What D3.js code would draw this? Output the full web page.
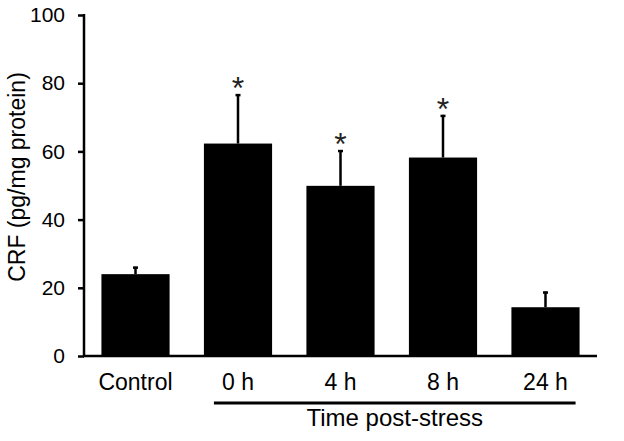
<!DOCTYPE html>
<html>
<head>
<meta charset="utf-8">
<script src="https://cdn.jsdelivr.net/npm/d3@7"></script>
<style>
  html, body { margin: 0; padding: 0; background: #fff; }
  svg { display: block; font-family: "Liberation Sans", Arial, sans-serif; }
</style>
</head>
<body>
<svg id="chart" width="624" height="441"></svg>
<script>
const categories = ["Control", "0 h", "4 h", "8 h", "24 h"];
const means = [24.0, 62.3, 49.9, 58.2, 14.3];
const errors = [2.2, 14.5, 10.5, 12.5, 4.6];
const significant = [false, true, true, true, false];
const yTicks = [0, 20, 40, 60, 80, 100];
const yTitle = "CRF (pg/mg protein)";
const groupTitle = "Time post-stress";

const svg = d3.select("#chart");
const x0 = 84, x1 = 597, yBottom = 356, yTop = 15;

const x = d3.scaleBand().domain(categories).range([x0, x1])
  .paddingInner(0.335).paddingOuter(0.17);
const y = d3.scaleLinear().domain([0, 100]).range([yBottom, yTop]);

// bars
svg.append("g").selectAll("rect").data(categories).join("rect")
  .attr("x", d => x(d))
  .attr("width", x.bandwidth())
  .attr("y", (d, i) => y(means[i]))
  .attr("height", (d, i) => y(0) - y(means[i]))
  .attr("fill", "#000");

// error bars
const eg = svg.append("g");
categories.forEach((c, i) => {
  const cx = x(c) + x.bandwidth() / 2;
  eg.append("line").attr("x1", cx).attr("x2", cx)
    .attr("y1", y(means[i])).attr("y2", y(means[i] + errors[i]))
    .attr("stroke", "#000").attr("stroke-width", 2.5);
  eg.append("line").attr("x1", cx - 2.5).attr("x2", cx + 2.5)
    .attr("y1", y(means[i] + errors[i]) + 1).attr("y2", y(means[i] + errors[i]) + 1)
    .attr("stroke", "#000").attr("stroke-width", 2.5);
  if (significant[i]) {
    eg.append("text").attr("x", cx)
      .attr("y", y(means[i] + errors[i]) - 13.5 + 0.57 * 32)
      .attr("text-anchor", "middle")
      .attr("font-size", 32).attr("fill", "#222")
      .text("*");
  }
});

// y axis
const yAxis = d3.axisLeft(y).tickValues(yTicks).tickSize(6).tickPadding(13);
const ga = svg.append("g").attr("transform", `translate(${x0},0)`).call(yAxis);
ga.select(".domain").attr("d", `M0,${yTop - 1}V${yBottom}`).attr("stroke-width", 2.5);
ga.selectAll(".tick line").attr("stroke-width", 2.5);
ga.selectAll(".tick text").attr("font-size", 21).attr("font-family", "Liberation Sans, Arial, sans-serif")
  .attr("fill", "#000");

// x axis baseline
const xAxis = d3.axisBottom(x).tickSize(0).tickPadding(24);
const gx = svg.append("g").attr("transform", `translate(0,${yBottom})`).call(xAxis);
gx.select(".domain").attr("d", `M${x0 - 1},0H${x1}`).attr("stroke-width", 2.5);
gx.selectAll(".tick text").attr("font-size", 23).attr("font-family", "Liberation Sans, Arial, sans-serif")
  .attr("fill", "#000").attr("dy", "0.71em").attr("y", 18);

// group underline
const gStart = x(categories[1]) + 10;
const gEnd = x(categories[4]) + x.bandwidth() - 4;
svg.append("line").attr("x1", gStart).attr("x2", gEnd)
  .attr("y1", 403).attr("y2", 403)
  .attr("stroke", "#000").attr("stroke-width", 3);
svg.append("text").attr("x", (gStart + gEnd) / 2).attr("y", 426)
  .attr("text-anchor", "middle").attr("font-size", 24).text(groupTitle);

// y title
svg.append("text")
  .attr("transform", `translate(25,177) rotate(-90)`)
  .attr("text-anchor", "middle").attr("font-size", 23).text(yTitle);
</script>
</body>
</html>
